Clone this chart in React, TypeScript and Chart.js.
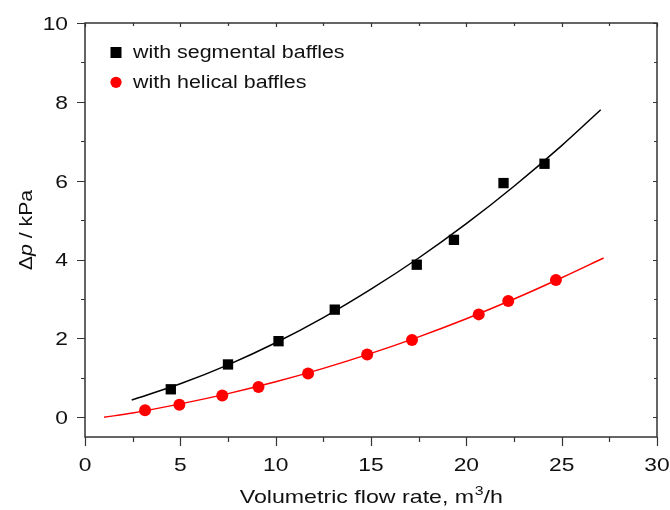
import React, { useEffect, useRef } from "react";
import { Chart, registerables } from "chart.js";

Chart.register(...registerables);

// Measured data: segmental baffles (black squares)
const segX = [4.5, 7.5, 10.15, 13.1, 17.4, 19.35, 21.95, 24.1];
const segY = [0.71, 1.34, 1.93, 2.73, 3.87, 4.5, 5.94, 6.43];
// Measured data: helical baffles (red circles)
const helX = [3.15, 4.95, 7.2, 9.1, 11.7, 14.8, 17.15, 20.65, 22.2, 24.7];
const helY = [0.18, 0.32, 0.55, 0.77, 1.11, 1.59, 1.96, 2.61, 2.95, 3.48];
// Fitted curves
const segFitX = [2.45, 5, 7.5, 10, 12.5, 15, 17.5, 20, 22.5, 25, 27.05];
const segFitY = [0.44, 0.85, 1.33, 1.89, 2.53, 3.25, 4.04, 4.91, 5.86, 6.89, 7.8];
const helFitX = [1, 2.5, 5, 7.5, 10, 12.5, 15, 17.5, 20, 22.5, 25, 27.2];
const helFitY = [0.0, 0.11, 0.34, 0.6, 0.9, 1.24, 1.62, 2.04, 2.5, 3.0, 3.54, 4.04];

const xTickValues = [0, 5, 10, 15, 20, 25, 30];
const yTickValues = [0, 2, 4, 6, 8, 10];
const legendLabels = ["with segmental baffles", "with helical baffles"];
const xTitleMain = "Volumetric flow rate, m";
const xTitleSup = "3";
const xTitleEnd = "/h";
const yTitleParts = ["\u0394", "p", " / kPa"];

const FONT = "'Liberation Sans', Arial, sans-serif";
const AXIS = "#333333";
const TEXT = "#111111";
const STRETCH = 1.2;

const pts = (xs: number[], ys: number[]) => xs.map((x, i) => ({ x, y: ys[i] }));

function stretchedText(ctx: CanvasRenderingContext2D, t: string, x: number, y: number, align: CanvasTextAlign, sx = STRETCH) {
  ctx.save();
  ctx.translate(x, y);
  ctx.scale(sx, 1);
  ctx.textAlign = align;
  ctx.fillText(t, 0, 0);
  ctx.restore();
}

const framePlugin = {
  id: "frameTicks",
  afterDraw(chart: any) {
    const { ctx, chartArea: a, scales } = chart;
    const xs = scales.x;
    const ys = scales.y;
    ctx.save();
    ctx.strokeStyle = AXIS;
    ctx.lineWidth = 1.5;
    ctx.strokeRect(a.left, a.top, a.right - a.left, a.bottom - a.top);
    ctx.lineWidth = 1.2;
    const xMajor = xs.ticks.map((t: any) => t.value);
    const xMinor: number[] = [];
    for (let i = 0; i < xMajor.length - 1; i++) xMinor.push((xMajor[i] + xMajor[i + 1]) / 2);
    const yMajor = ys.ticks.map((t: any) => t.value);
    const yMinor: number[] = [];
    for (let i = 0; i < yMajor.length - 1; i++) yMinor.push((yMajor[i] + yMajor[i + 1]) / 2);
    ctx.beginPath();
    xMajor.forEach((v: number) => {
      const p = Math.round(xs.getPixelForValue(v)) + 0.5;
      ctx.moveTo(p, a.bottom); ctx.lineTo(p, a.bottom + 9);
      ctx.moveTo(p, a.top); ctx.lineTo(p, a.top + 4);
    });
    xMinor.forEach((v: number) => {
      const p = Math.round(xs.getPixelForValue(v)) + 0.5;
      ctx.moveTo(p, a.bottom); ctx.lineTo(p, a.bottom + 5);
      ctx.moveTo(p, a.top); ctx.lineTo(p, a.top + 3);
    });
    yMajor.forEach((v: number) => {
      const p = Math.round(ys.getPixelForValue(v)) + 0.5;
      ctx.moveTo(a.left, p); ctx.lineTo(a.left - 8, p);
      ctx.moveTo(a.right, p); ctx.lineTo(a.right - 4, p);
    });
    yMinor.forEach((v: number) => {
      const p = Math.round(ys.getPixelForValue(v)) + 0.5;
      ctx.moveTo(a.left, p); ctx.lineTo(a.left - 4, p);
      ctx.moveTo(a.right, p); ctx.lineTo(a.right - 3, p);
    });
    ctx.stroke();

    // Tick labels
    ctx.fillStyle = TEXT;
    ctx.font = `19px ${FONT}`;
    ctx.textBaseline = "alphabetic";
    xs.ticks.forEach((t: any) => {
      stretchedText(ctx, String(t.value), xs.getPixelForValue(t.value), a.bottom + 34, "center");
    });
    ys.ticks.forEach((t: any) => {
      stretchedText(ctx, String(t.value), a.left - 17, ys.getPixelForValue(t.value) + 6.8, "right");
    });

    // Legend
    ctx.fillStyle = "#000";
    ctx.fillRect(116 - 5.5, 52.5 - 5.5, 11, 11);
    ctx.fillStyle = "#ff0000";
    ctx.beginPath();
    ctx.arc(116, 82.3, 5.6, 0, Math.PI * 2);
    ctx.fill();
    ctx.fillStyle = TEXT;
    ctx.font = `18px ${FONT}`;
    stretchedText(ctx, legendLabels[0], 133, 58, "left", 1.19);
    stretchedText(ctx, legendLabels[1], 133, 88, "left", 1.19);

    // X title with superscript
    const cx = (a.left + a.right) / 2;
    const sx = 1.22;
    ctx.font = `19px ${FONT}`;
    const w1 = ctx.measureText(xTitleMain).width * sx;
    const w3 = ctx.measureText(xTitleEnd).width * sx;
    ctx.font = `13px ${FONT}`;
    const w2 = ctx.measureText(xTitleSup).width * sx;
    const total = w1 + w2 + w3;
    const x0 = cx - total / 2;
    const base = 503;
    ctx.font = `19px ${FONT}`;
    stretchedText(ctx, xTitleMain, x0, base, "left", sx);
    ctx.font = `13px ${FONT}`;
    stretchedText(ctx, xTitleSup, x0 + w1 + 0.5, base - 8, "left", sx);
    ctx.font = `19px ${FONT}`;
    stretchedText(ctx, xTitleEnd, x0 + w1 + w2 + 0.5, base, "left", sx);

    // Y title rotated
    ctx.save();
    ctx.translate(31.5, (a.top + a.bottom) / 2);
    ctx.rotate(-Math.PI / 2);
    const fonts = [`18px ${FONT}`, `italic 18px ${FONT}`, `18px ${FONT}`];
    const ysx = 1.18;
    let tw = 0;
    yTitleParts.forEach((t, i) => { ctx.font = fonts[i]; tw += ctx.measureText(t).width * ysx; });
    let px = -tw / 2;
    yTitleParts.forEach((t, i) => {
      ctx.font = fonts[i];
      stretchedText(ctx, t, px, 0, "left", ysx);
      px += ctx.measureText(t).width * ysx;
    });
    ctx.restore();
    ctx.restore();
  },
};

export default function App() {
  const ref = useRef<HTMLCanvasElement>(null);
  useEffect(() => {
    document.body.style.margin = "0";
    const zeroPad = (s: any) => {
      s.paddingLeft = 0; s.paddingRight = 0; s.paddingTop = 0; s.paddingBottom = 0;
    };
    const chart = new Chart(ref.current!, {
      type: "scatter",
      data: {
        datasets: [
          {
            label: "segFit",
            data: pts(segFitX, segFitY),
            showLine: true,
            borderColor: "#000",
            borderWidth: 1.5,
            pointRadius: 0,
            cubicInterpolationMode: "monotone",
            order: 2,
          } as any,
          {
            label: "helFit",
            data: pts(helFitX, helFitY),
            showLine: true,
            borderColor: "#ff0000",
            borderWidth: 1.5,
            pointRadius: 0,
            cubicInterpolationMode: "monotone",
            order: 2,
          },
          {
            label: legendLabels[0],
            data: pts(segX, segY),
            pointStyle: "rect",
            pointRadius: 7.3,
            backgroundColor: "#000",
            borderColor: "#000",
            borderWidth: 0,
            order: 1,
          },
          {
            label: legendLabels[1],
            data: pts(helX, helY),
            pointStyle: "circle",
            pointRadius: 6,
            backgroundColor: "#ff0000",
            borderColor: "#ff0000",
            borderWidth: 0,
            order: 1,
          },
        ],
      },
      options: {
        animation: false,
        responsive: false,
        maintainAspectRatio: false,
        layout: { padding: { top: 23, right: 13, left: 0, bottom: 0 } },
        plugins: { legend: { display: false }, tooltip: { enabled: false } },
        scales: {
          x: {
            type: "linear",
            min: 0,
            max: 30,
            ticks: { display: false },
            grid: { display: false, drawTicks: false },
            border: { display: false },
            afterBuildTicks: (s: any) => { s.ticks = xTickValues.map((v) => ({ value: v })); },
            afterFit: (s: any) => { s.height = 73; zeroPad(s); },
          },
          y: {
            type: "linear",
            min: -0.5,
            max: 10,
            ticks: { display: false },
            grid: { display: false, drawTicks: false },
            border: { display: false },
            afterBuildTicks: (s: any) => { s.ticks = yTickValues.map((v) => ({ value: v })); },
            afterFit: (s: any) => { s.width = 85; zeroPad(s); },
          },
        },
      },
      plugins: [framePlugin],
    });
    return () => chart.destroy();
  }, []);
  return <canvas ref={ref} width={670} height={510} style={{ display: "block" }} />;
}
